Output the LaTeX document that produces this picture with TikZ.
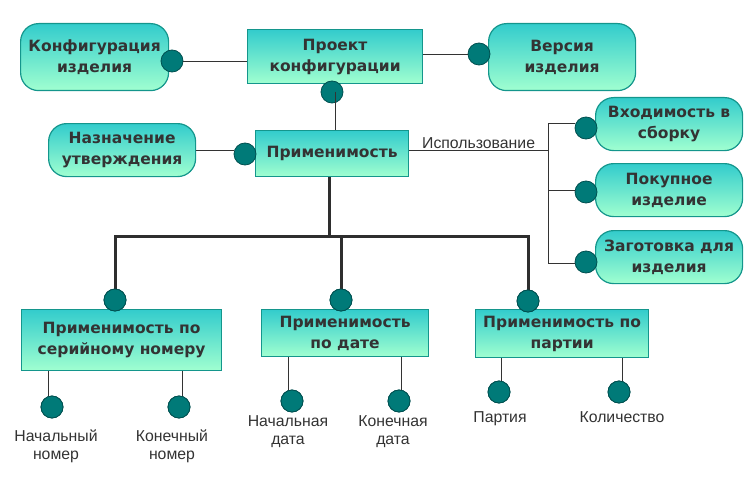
\documentclass[tikz,border=0pt]{standalone}
\usepackage{fontspec}
\setmainfont{Liberation Sans}
\newfontfamily\boxfont{DejaVu Sans}
\definecolor{gtop}{RGB}{51,204,204}
\definecolor{gbot}{RGB}{160,255,208}
\definecolor{gborder}{RGB}{20,150,140}
\definecolor{dotfill}{RGB}{0,122,120}
\definecolor{dotborder}{RGB}{0,80,80}
\definecolor{txt}{RGB}{51,51,51}
\tikzset{
  ent/.style={draw=gborder, line width=1.2pt, top color=gtop, bottom color=gbot,
    font=\boxfont\bfseries\fontsize{15.5}{21}\selectfont, text=txt, align=center,
    inner sep=0pt, anchor=north west},
  rbox/.style={ent, rounded corners=18pt},
  sbox/.style={ent},
  dotn/.style={circle, fill=dotfill, draw=dotborder, line width=0.8pt, minimum size=22pt, inner sep=0pt},
  thin/.style={draw=txt, line width=0.8pt},
  thick/.style={draw=txt!90!black, line width=3pt},
  lbl/.style={font=\fontsize{15.8}{18}\selectfont, text=txt, align=center},
}
\begin{document}
\begin{tikzpicture}[x=1pt,y=-1pt]
\useasboundingbox (0,0) rectangle (754,476);
% boxes
\node[rbox, minimum width=148pt, minimum height=67pt] (konf) at (20,23) {Конфигурация\\изделия};
\node[sbox, minimum width=175pt, minimum height=54pt] (proj) at (247,29) {Проект\\конфигурации};
\node[rbox, minimum width=147pt, minimum height=67pt] (vers) at (488,23) {Версия\\изделия};
\node[rbox, minimum width=147pt, minimum height=53pt] (nazn) at (48,123) {Назначение\\утверждения};
\node[sbox, minimum width=153pt, minimum height=46pt] (prim) at (255,130) {Применимость};
\node[rbox, minimum width=147pt, minimum height=53pt] (vhod) at (595,97) {Входимость в\\сборку};
\node[rbox, minimum width=147pt, minimum height=53pt] (pok) at (595,163) {Покупное\\изделие};
\node[rbox, minimum width=147pt, minimum height=53pt] (zag) at (595,230) {Заготовка для\\изделия};
\node[sbox, minimum width=200pt, minimum height=61pt] (ser) at (21,309) {Применимость по\\серийному номеру};
\node[sbox, minimum width=167pt, minimum height=47pt] (dat) at (261,309) {Применимость\\по дате};
\node[sbox, minimum width=173pt, minimum height=48pt] (par) at (475,309) {Применимость по\\партии};

% top connections
\node[dotn] (d1) at (172,61) {};
\draw[thin] (d1) -- (d1 -| proj.west);
\node[dotn] (d2) at (479,54) {};
\draw[thin] (proj.east |- d2) -- (d2);
\node[dotn] (d3) at (332,92) {};
\coordinate (c3) at (335,92);
\draw[thin] (c3) -- (c3 |- prim.north);
\node[dotn] (d4) at (245,154) {};
\coordinate (c4) at (195,150);
\draw[thin] (nazn.east |- c4) -- (c4 -| d4.west);

% usage
\coordinate (ub) at (548,150);
\coordinate (u1) at (548,123);
\coordinate (u2) at (548,190);
\coordinate (u3) at (548,263);
\node[dotn] (r1) at (586,128) {};
\node[dotn] (r2) at (586,192) {};
\node[dotn] (r3) at (586,262) {};
\draw[thin] (prim.east |- ub) -- node[lbl, above, pos=0.5, yshift=-2pt] {Использование} (ub);
\draw[thin] (u1) -- (u3);
\draw[thin] (u1) -- (u1 -| r1.west);
\draw[thin] (u2) -- (u2 -| r2.west);
\draw[thin] (u3) -- (u3 -| r3.west);

% tree
\node[dotn] (t1) at (115,300) {};
\node[dotn] (t2) at (341,300) {};
\node[dotn] (t3) at (528,301) {};
\coordinate (tb) at (329,236);
\draw[thick] (prim.south -| tb) -- (tb);
\draw[thick] (t1.center) -- (t1.center |- tb) -- (t3.center |- tb) -- (t3.center);
\draw[thick] (t2.center |- tb) -- (t2.center);
\node[dotn] at (115,300) {};
\node[dotn] at (341,300) {};
\node[dotn] at (528,301) {};

% attributes
\node[dotn] (a1) at (52,407) {};
\node[dotn] (a2) at (179,407) {};
\node[dotn] (a3) at (292,401) {};
\node[dotn] (a4) at (399,401) {};
\node[dotn] (a5) at (499,392) {};
\node[dotn] (a6) at (619,392) {};
\coordinate (k1) at (48,398);
\coordinate (k2) at (182,398);
\coordinate (k3) at (288,392);
\coordinate (k4) at (401,392);
\coordinate (k5) at (501,383);
\coordinate (k6) at (622,383);
\draw[thin] (ser.south -| k1) -- (k1);
\draw[thin] (ser.south -| k2) -- (k2);
\draw[thin] (dat.south -| k3) -- (k3);
\draw[thin] (dat.south -| k4) -- (k4);
\draw[thin] (par.south -| k5) -- (k5);
\draw[thin] (par.south -| k6) -- (k6);
\node[dotn] at (52,407) {};
\node[dotn] at (179,407) {};
\node[dotn] at (292,401) {};
\node[dotn] at (399,401) {};
\node[dotn] at (499,392) {};
\node[dotn] at (619,392) {};

\node[lbl] (l1) at (56,446) {Начальный\\номер};
\node[lbl] (l2) at (172,446) {Конечный\\номер};
\node[lbl] (l3) at (288,432) {Начальная\\дата};
\node[lbl] (l4) at (393,432) {Конечная\\дата};
\node[lbl, anchor=base] (l5) at (500,422) {Партия};
\node[lbl, anchor=base] (l6) at (622,422) {Количество};
\end{tikzpicture}
\end{document}
